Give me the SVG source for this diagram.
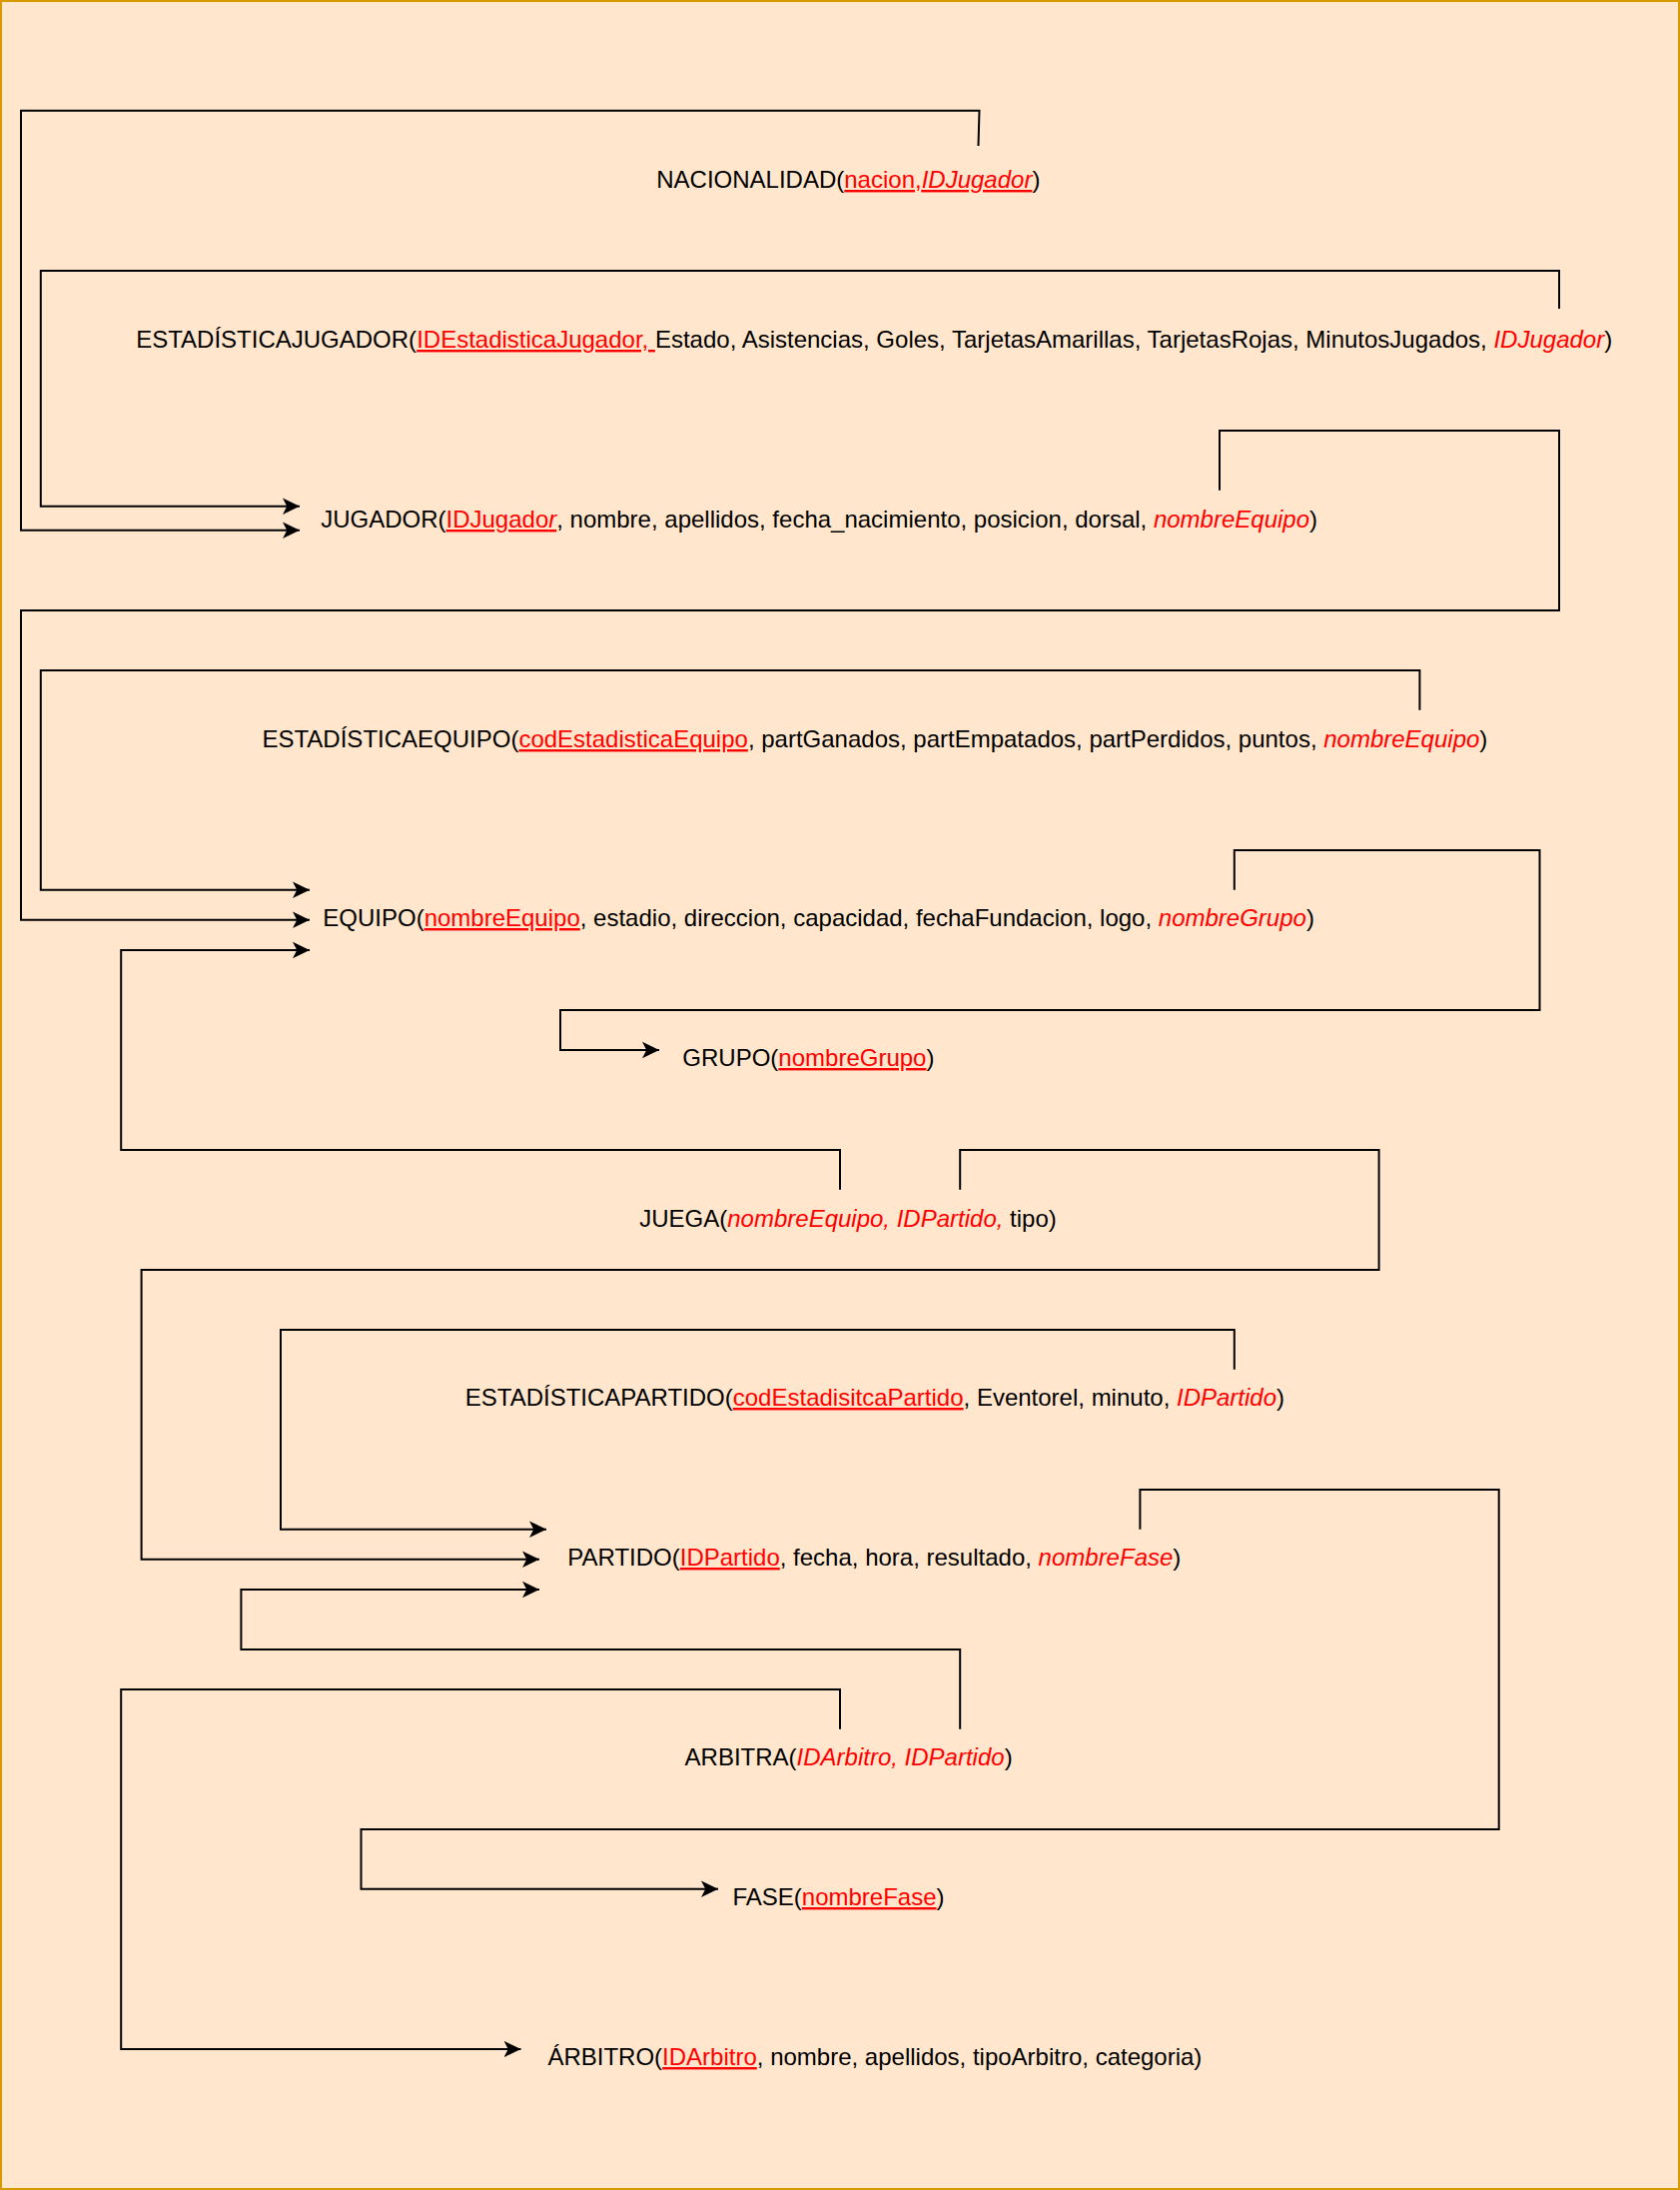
<svg xmlns="http://www.w3.org/2000/svg" width="1682" height="2192" viewBox="0 0 1682 2192">
<style>
.t{font-family:"Liberation Sans",Arial,sans-serif;font-size:24px;fill:#000;text-anchor:middle}
.r{fill:#FF0000}
.u{text-decoration:underline}
.i{font-style:italic}
.ca{fill:none;stroke:#000;stroke-width:2;marker-end:url(#arr)}
</style>
<defs>
<marker id="arr" markerUnits="userSpaceOnUse" markerWidth="20" markerHeight="18" viewBox="0 0 20 18" refX="17" refY="9" orient="auto">
<path d="M0,0.7 L17,9 L0,17.3 L4.25,9 Z" fill="#000"/>
</marker>
</defs>
<rect x="1" y="1" width="1680" height="2190" fill="#ffe6cc" stroke="#d79b00" stroke-width="2"/>
<g id="connectors">
<path class="ca" d="M979.5,146 L980.5,110.7 L21,110.7 L21,530.7 L300,530.7"/>
<path class="ca" d="M1561,309 L1561,271 L40.8,271 L40.8,506.7 L300,506.7"/>
<path class="ca" d="M1221,490.7 L1221,431 L1561,431 L1561,611 L21,611 L21,920.7 L310,920.7"/>
<path class="ca" d="M1421.4,710.7 L1421.4,671 L40.8,671 L40.8,890.7 L310,890.7"/>
<path class="ca" d="M1235.8,890.7 L1235.8,851 L1541.5,851 L1541.5,1011 L561,1011 L561,1051 L660,1051"/>
<path class="ca" d="M841,1190.7 L841,1151 L121.2,1151 L121.2,951 L310,951"/>
<path class="ca" d="M961.2,1190.7 L961.2,1151 L1380.6,1151 L1380.6,1271 L141.6,1271 L141.6,1560.7 L540,1560.7"/>
<path class="ca" d="M1235.8,1370.7 L1235.8,1331 L281,1331 L281,1530.7 L547,1530.7"/>
<path class="ca" d="M961.2,1730.7 L961.2,1651 L241.4,1651 L241.4,1591 L540,1591"/>
<path class="ca" d="M1141.4,1530.7 L1141.4,1491 L1500.7,1491 L1500.7,1831 L361.5,1831 L361.5,1890.7 L719,1890.7"/>
<path class="ca" d="M841,1730.7 L841,1691 L121.2,1691 L121.2,2051 L521.5,2051"/>
</g>
<g id="nacionalidad"><text class="t" x="849.3" y="188">NACIONALIDAD(<tspan class="r u">nacion,</tspan><tspan class="r u i">IDJugador</tspan>)</text></g>
<g id="estadisticajugador"><text class="t" x="875.2" y="348">ESTADÍSTICAJUGADOR(<tspan class="r u">IDEstadisticaJugador, </tspan>Estado, Asistencias, Goles, TarjetasAmarillas, TarjetasRojas, MinutosJugados, <tspan class="r i">IDJugador</tspan>)</text></g>
<g id="jugador"><text class="t" x="820.1" y="528">JUGADOR(<tspan class="r u">IDJugado</tspan><tspan class="r u i">r</tspan>, nombre, apellidos, fecha_nacimiento, posicion, dorsal, <tspan class="r i">nombreEquipo</tspan>)</text></g>
<g id="estadisticaequipo"><text class="t" x="875.9" y="748">ESTADÍSTICAEQUIPO(<tspan class="r u">codEstadisticaEquipo</tspan>, partGanados, partEmpatados, partPerdidos, puntos, <tspan class="r i">nombreEquipo</tspan>)</text></g>
<g id="equipo"><text class="t" x="819.6" y="927">EQUIPO(<tspan class="r u">nombreEquipo</tspan>, estadio, direccion, capacidad, fechaFundacion, logo, <tspan class="r i">nombreGrupo</tspan>)</text></g>
<g id="grupo"><text class="t" x="809.4" y="1067">GRUPO(<tspan class="r u">nombreGrupo</tspan>)</text></g>
<g id="juega"><text class="t" x="849" y="1228">JUEGA(<tspan class="r i">nombreEquipo, IDPartido,</tspan> tipo)</text></g>
<g id="estadisticapartido"><text class="t" x="875.9" y="1407">ESTADÍSTICAPARTIDO(<tspan class="r u">codEstadisitcaPartido</tspan>, Eventorel, minuto, <tspan class="r i">IDPartido</tspan>)</text></g>
<g id="partido"><text class="t" x="875.3" y="1567">PARTIDO(<tspan class="r u">IDPartido</tspan>, fecha, hora, resultado, <tspan class="r i">nombreFase</tspan>)</text></g>
<g id="arbitra"><text class="t" x="849.6" y="1767">ARBITRA(<tspan class="r i">IDArbitro, IDPartido</tspan>)</text></g>
<g id="fase"><text class="t" x="839.5" y="1907">FASE(<tspan class="r u">nombreFase</tspan>)</text></g>
<g id="arbitro"><text class="t" x="875.9" y="2067">ÁRBITRO(<tspan class="r u">IDArbitro</tspan>, nombre, apellidos, tipoArbitro, categoria)</text></g>
</svg>
